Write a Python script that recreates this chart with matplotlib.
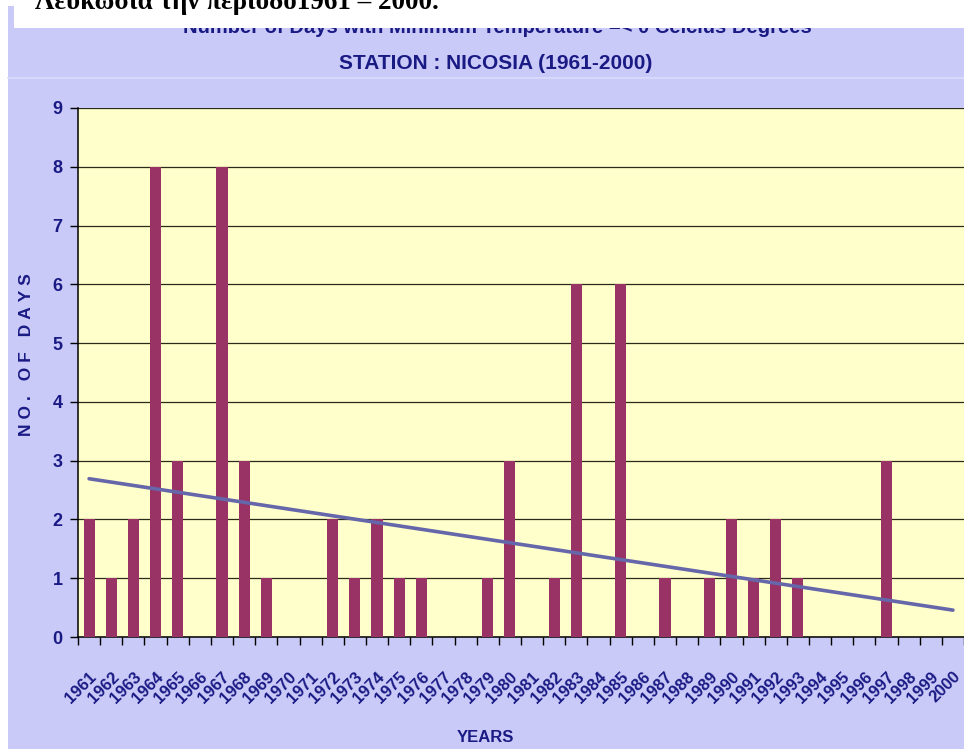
import matplotlib
matplotlib.use("Agg")
import matplotlib.pyplot as plt
import numpy as np
from matplotlib.patches import Rectangle
from matplotlib.lines import Line2D

years = [str(y) for y in range(1961, 2001)]
days = [2, 1, 2, 8, 3, 0, 8, 3, 1, 0,
        0, 2, 1, 2, 1, 1, 0, 0, 1, 3,
        0, 1, 6, 0, 6, 0, 1, 0, 1, 2,
        1, 2, 1, 0, 0, 0, 3, 0, 0, 0]
yticks = list(range(0, 10))

title1 = "Number of Days with Minimum Temperature =< 0 Celcius Degrees"
title2 = "STATION : NICOSIA (1961-2000)"
greek = "Λευκωσία την περίοδο1961 – 2000."
sp = "\u2009\u200a"
ylabel = sp.join("NO.") + sp + " " + sp + sp.join("OF") + sp + " " + sp + sp.join("DAYS")
xlabel = "YEARS"

NAVY = "#1a1a85"
LAV = "#cacaf8"
YEL = "#ffffcc"
BAR = "#993366"
TREND = "#6666aa"
SANS = ["Liberation Sans", "DejaVu Sans"]

W, H = 964, 749
fig = plt.figure(figsize=(W / 100, H / 100), dpi=100)
fig.patch.set_facecolor("white")

def fx(px):
    return px / W

def fy(py):
    return 1 - py / H

# lavender slide background
fig.add_artist(Rectangle((fx(8), 0), 1 - fx(8), fy(6), transform=fig.transFigure,
                         facecolor=LAV, edgecolor="none", zorder=0))
fig.add_artist(Line2D([fx(8), 1], [fy(78), fy(78)], transform=fig.transFigure,
                      color="#dcdcfb", lw=1.2, zorder=0.5))

ax = fig.add_axes([fx(78), fy(637), 1 - fx(78), fy(108) - fy(637)])
ax.set_facecolor(YEL)

x = np.arange(len(years))
ax.bar(x, days, width=0.5, color=BAR, zorder=3)

coef = np.polyfit(x, days, 1)
ax.plot(x, np.polyval(coef, x), color=TREND, lw=2.6, zorder=4, solid_capstyle="round")

ax.set_xlim(-0.5, (W - 78) / 22.3 - 0.5)
ax.set_ylim(0, 9)
ax.set_yticks(yticks)
ax.set_yticklabels([str(v) for v in yticks], fontfamily=SANS,
                   fontweight="bold", fontsize=13, color=NAVY)
ax.yaxis.grid(True, color="#2a2a1a", lw=0.9, zorder=1)
ax.set_axisbelow(True)

ax.set_xticks(x)
ax.set_xticklabels(years, fontfamily=SANS, fontweight="bold",
                   fontsize=12, color=NAVY, rotation=45, ha="right",
                   rotation_mode="anchor")
ax.set_xticks(np.arange(len(years) + 1) - 0.5, minor=True)
ax.tick_params(axis="x", which="major", length=0, pad=23)
ax.tick_params(axis="x", which="minor", length=6, width=1, color="black", direction="out")
ax.tick_params(axis="y", length=6, width=1, color="black", direction="out", pad=5)

for s in ["top", "right"]:
    ax.spines[s].set_visible(False)
for s in ["left", "bottom"]:
    ax.spines[s].set_color("black")
    ax.spines[s].set_linewidth(1.1)

# axis titles
fig.text(fx(27), fy(355), ylabel, rotation=90, ha="center", va="center",
         fontfamily=SANS, fontweight="bold", fontsize=12.5, color=NAVY)
fig.text(fx(485), fy(738), xlabel, ha="center", va="center",
         fontfamily=SANS, fontweight="bold", fontsize=12, color=NAVY)

# titles
fig.text(fx(497), fy(33), title1, ha="center", va="baseline",
         fontfamily=SANS, fontweight="bold", fontsize=14.5, color=NAVY, zorder=5)
fig.text(fx(496), fy(69), title2, ha="center", va="baseline",
         fontfamily=SANS, fontweight="bold", fontsize=15, color=NAVY, zorder=5)

# white text box overlapping the top of the chart
fig.add_artist(Rectangle((fx(14), fy(28)), 1 - fx(14), fy(0) - fy(28) + 0.01,
                         transform=fig.transFigure, facecolor="white",
                         edgecolor="none", zorder=10))
fig.text(fx(35), fy(9), greek, ha="left", va="baseline",
         fontfamily=["Liberation Serif", "DejaVu Serif"], fontweight="bold",
         fontsize=19.5, color="black", zorder=11)

fig.savefig("out.png", dpi=100, facecolor=fig.get_facecolor())
